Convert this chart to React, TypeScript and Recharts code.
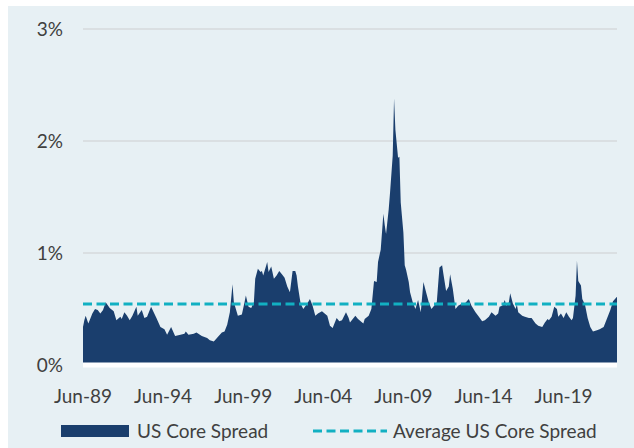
import { Area, AreaChart, CartesianGrid, Legend, ReferenceLine, XAxis, YAxis } from "recharts"

// months counted from Jun-89
const monthsSinceJun89 = [
  0, 1, 2, 4, 5, 7, 9, 11, 13, 15, 17, 20, 23, 25, 28, 29, 31, 33, 35, 37, 40, 41, 44, 46, 48, 51, 55, 58,
  61, 63, 66, 69, 73, 76, 77, 79, 83, 85, 89, 93, 95, 98, 101, 104, 106, 108, 110, 112, 113, 116, 119,
  121, 122, 124, 126, 128, 129, 131, 133, 134, 135, 138, 139, 141, 143, 145, 147, 149, 151, 153, 155,
  157, 159, 160, 161, 163, 165, 168, 170, 172, 174, 176, 179, 183, 185, 187, 190, 192, 194, 197, 199,
  200, 204, 206, 210, 211, 214, 216, 218, 220, 221, 223, 225, 226, 227, 229, 230, 232, 233, 234, 236,
  237, 238, 240, 241, 242, 244, 245, 247, 249, 251, 253, 255, 257, 259, 261, 263, 265, 267, 269, 270,
  272, 274, 275, 277, 279, 281, 284, 286, 289, 291, 294, 296, 299, 301, 304, 306, 309, 311, 312, 314,
  316, 317, 319, 320, 322, 324, 325, 326, 329, 331, 334, 336, 339, 341, 344, 346, 348, 349, 351, 353,
  355, 356, 358, 360, 362, 364, 366, 367, 369, 370, 371, 373, 374, 376, 378, 380, 382, 385, 387, 390,
  392, 395, 397, 400,
]

const usCoreSpread = [
  0.34, 0.4, 0.44, 0.37, 0.4, 0.46, 0.5, 0.49, 0.46, 0.49, 0.56, 0.51, 0.48, 0.4, 0.43, 0.41, 0.47, 0.44,
  0.4, 0.44, 0.52, 0.44, 0.49, 0.42, 0.43, 0.52, 0.42, 0.34,
  0.32, 0.27, 0.34, 0.26, 0.27, 0.28, 0.3, 0.27, 0.28, 0.29, 0.26, 0.24, 0.22, 0.21, 0.25, 0.29, 0.3,
  0.36, 0.47, 0.72, 0.56, 0.44, 0.45,
  0.56, 0.62, 0.52, 0.51, 0.56, 0.77, 0.86, 0.83, 0.84, 0.8, 0.92, 0.83, 0.88, 0.77, 0.8, 0.84, 0.81,
  0.78, 0.7, 0.65,
  0.84, 0.84, 0.8, 0.7, 0.55, 0.5, 0.55, 0.59, 0.53, 0.44, 0.46, 0.48, 0.44, 0.35, 0.33, 0.42, 0.39,
  0.4, 0.47, 0.42,
  0.38, 0.44, 0.41, 0.37, 0.41, 0.44, 0.5, 0.75, 0.74, 0.92, 1.03, 1.35, 1.25, 1.17, 1.39, 1.54, 1.87,
  2.38, 2.1, 1.85,
  1.86, 1.45, 1.18, 0.89, 0.85, 0.74, 0.65, 0.56, 0.5, 0.58, 0.47, 0.74, 0.65, 0.56, 0.5, 0.53, 0.56,
  0.87, 0.89, 0.81,
  0.66, 0.7, 0.81, 0.68, 0.5, 0.53, 0.55, 0.55, 0.59, 0.53, 0.47, 0.44, 0.39, 0.4, 0.43, 0.47, 0.44,
  0.46, 0.52, 0.53,
  0.58, 0.53, 0.56, 0.64, 0.55, 0.5, 0.54, 0.47, 0.44, 0.43, 0.42, 0.42, 0.37, 0.35, 0.34, 0.38, 0.41,
  0.4, 0.43, 0.52,
  0.5, 0.43, 0.46, 0.42, 0.47, 0.43, 0.4, 0.42, 0.62, 0.93, 0.75, 0.71, 0.59, 0.54, 0.42, 0.34, 0.3,
  0.31, 0.32, 0.34,
  0.4, 0.49, 0.57, 0.61,
]

const averageSpread = 0.545

const xTicks = [0, 60, 120, 180, 240, 300, 360]
const xTickLabels = ["Jun-89", "Jun-94", "Jun-99", "Jun-04", "Jun-09", "Jun-14", "Jun-19"]
const yTicks = [0, 1, 2, 3]

const data = monthsSinceJun89.map((m, i) => ({ m, spread: usCoreSpread[i] }))

const NAVY = "#1a3e6d"
const TEAL = "#12b0c2"
const TEXT = "#404040"

function ChartLegend() {
  return (
    <div style={{ position: "relative", width: 626, height: 22, fontSize: 19, color: TEXT }}>
      <div style={{ position: "absolute", left: 53, top: 6, width: 68, height: 12, background: NAVY }} />
      <span style={{ position: "absolute", left: 129, top: 0, whiteSpace: "nowrap" }}>US Core Spread</span>
      <svg style={{ position: "absolute", left: 305, top: 10 }} width={74} height={4}>
        <line x1={0} y1={2} x2={74} y2={2} stroke={TEAL} strokeWidth={3} strokeDasharray="9 4.5" />
      </svg>
      <span style={{ position: "absolute", left: 385, top: 0, whiteSpace: "nowrap" }}>Average US Core Spread</span>
    </div>
  )
}

export default function App() {
  return (
    <div
      style={{
        position: "absolute",
        left: 8,
        top: 6,
        width: 626,
        height: 442,
        background: "#e7f0f4",
        fontFamily: "Lato, sans-serif",
      }}
    >
      <AreaChart width={626} height={442} data={data} margin={{ top: 23, right: 17, left: 0, bottom: 7 }}>
        <CartesianGrid vertical={false} stroke="#d6dadc" strokeWidth={1.5} />
        <XAxis
          dataKey="m"
          type="number"
          domain={[0, 400]}
          ticks={xTicks}
          tickFormatter={(v) => xTickLabels[xTicks.indexOf(v)]}
          axisLine={{ stroke: "#ffffff", strokeWidth: 5 }}
          tickLine={false}
          tickSize={0}
          tickMargin={25}
          height={54}
          tick={{ fill: TEXT, fontSize: 19 }}
        />
        <YAxis
          domain={[0, 3]}
          ticks={yTicks}
          tickFormatter={(v) => `${v}%`}
          axisLine={false}
          tickLine={false}
          tickSize={0}
          tickMargin={20}
          width={75}
          tick={{ fill: TEXT, fontSize: 19 }}
        />
        <Area
          type="linear"
          dataKey="spread"
          stroke="none"
          fill={NAVY}
          fillOpacity={1}
          isAnimationActive={false}
        />
        <ReferenceLine y={averageSpread} stroke={TEAL} strokeWidth={3} strokeDasharray="9 4.5" />
        <Legend verticalAlign="bottom" content={() => <ChartLegend />} wrapperStyle={{ left: 0, width: 626 }} />
      </AreaChart>
    </div>
  )
}
